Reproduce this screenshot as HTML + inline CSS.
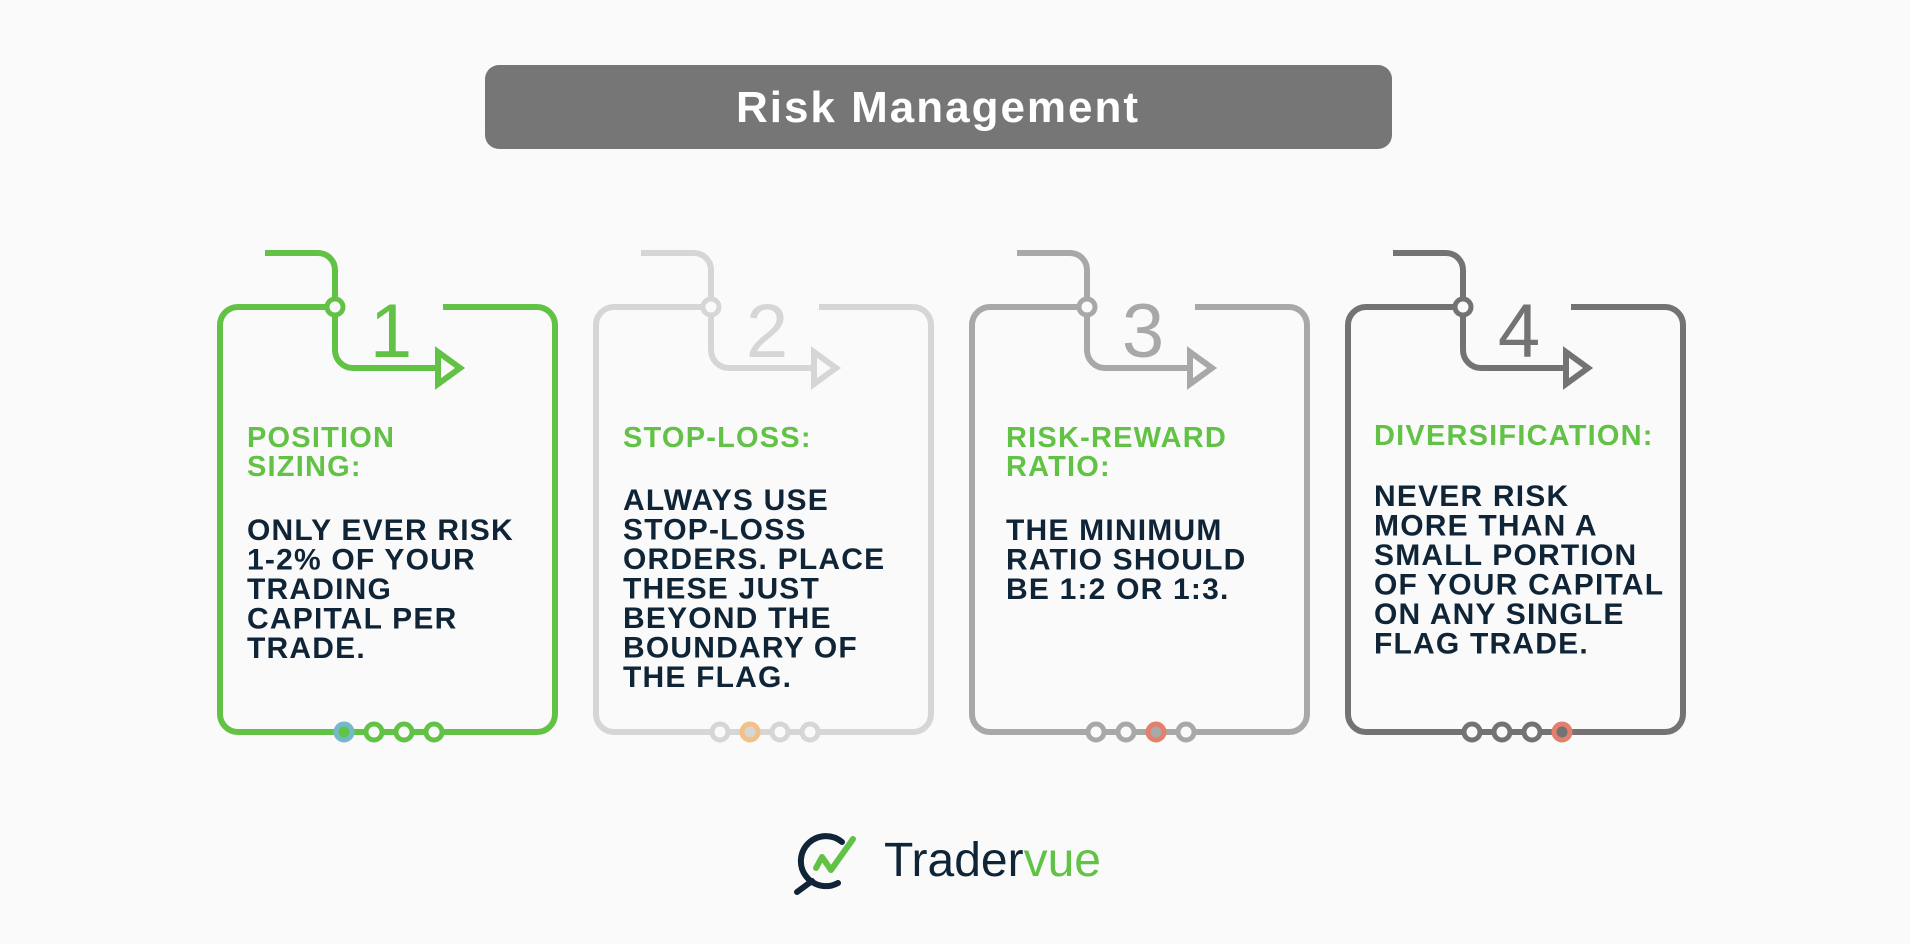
<!DOCTYPE html>
<html><head><meta charset="utf-8"><style>
html,body{margin:0;padding:0;background:#fafafa;}
svg{display:block}
text{font-family:"Liberation Sans",sans-serif;}
.h{font-weight:bold;font-size:29px;fill:#62c246;letter-spacing:1.2px}
.b{font-weight:bold;font-size:30px;fill:#0f2436;letter-spacing:1.2px}
.n{font-size:76px;}
</style></head><body>
<svg width="1910" height="944" viewBox="0 0 1910 944" xmlns="http://www.w3.org/2000/svg">
<rect width="1910" height="944" fill="#fafafa"/>
<rect x="485" y="65" width="907" height="84" rx="14" fill="#767676"/>
<text x="938" y="122" text-anchor="middle" font-size="44" font-weight="bold" fill="#fff" letter-spacing="2">Risk Management</text>

<defs>
<g id="card" fill="none" stroke-width="6" stroke-linecap="butt">
  <path d="M335 307 H238 a18 18 0 0 0 -18 18 V714 a18 18 0 0 0 18 18 H537 a18 18 0 0 0 18 -18 V325 a18 18 0 0 0 -18 -18 H443"/>
  <path d="M265 253 H318 a17 17 0 0 1 17 17 V350 a18 18 0 0 0 18 18 H440"/>
  <path d="M438 352 L460 368 L438 384 Z"/>
</g>
</defs>

<!-- card 1 -->
<g stroke="#62c246"><use href="#card"/></g>
<circle cx="335" cy="307" r="8" fill="#fafafa" stroke="#62c246" stroke-width="5"/>
<text x="391" y="357" text-anchor="middle" class="n" fill="#62c246">1</text>
<g stroke-width="5" fill="#fafafa" stroke="#62c246">
<circle cx="344" cy="732" r="8" stroke="#74b9c9" fill="#62c246"/><circle cx="374" cy="732" r="8"/><circle cx="404" cy="732" r="8"/><circle cx="434" cy="732" r="8"/></g>
<text class="h"><tspan x="247" y="447">POSITION</tspan><tspan x="247" y="476">SIZING:</tspan></text>
<text class="b"><tspan x="247" y="540">ONLY EVER RISK</tspan><tspan x="247" y="569.5">1-2% OF YOUR</tspan><tspan x="247" y="599">TRADING</tspan><tspan x="247" y="628.5">CAPITAL PER</tspan><tspan x="247" y="658">TRADE.</tspan></text>

<!-- card 2 -->
<g stroke="#d6d6d6" transform="translate(376,0)"><use href="#card"/></g>
<circle cx="711" cy="307" r="8" fill="#fafafa" stroke="#d6d6d6" stroke-width="5"/>
<text x="767" y="357" text-anchor="middle" class="n" fill="#d6d6d6">2</text>
<g stroke-width="5" fill="#fafafa" stroke="#d6d6d6">
<circle cx="720" cy="732" r="8"/><circle cx="750" cy="732" r="8" stroke="#f2c187" fill="#d6d6d6"/><circle cx="780" cy="732" r="8"/><circle cx="810" cy="732" r="8"/></g>
<text class="h"><tspan x="623" y="447">STOP-LOSS:</tspan></text>
<text class="b"><tspan x="623" y="510">ALWAYS USE</tspan><tspan x="623" y="539.5">STOP-LOSS</tspan><tspan x="623" y="569">ORDERS. PLACE</tspan><tspan x="623" y="598.5">THESE JUST</tspan><tspan x="623" y="628">BEYOND THE</tspan><tspan x="623" y="657.5">BOUNDARY OF</tspan><tspan x="623" y="687">THE FLAG.</tspan></text>

<!-- card 3 -->
<g stroke="#a8a8a8" transform="translate(752,0)"><use href="#card"/></g>
<circle cx="1087" cy="307" r="8" fill="#fafafa" stroke="#a8a8a8" stroke-width="5"/>
<text x="1143" y="357" text-anchor="middle" class="n" fill="#a8a8a8">3</text>
<g stroke-width="5" fill="#fafafa" stroke="#a8a8a8">
<circle cx="1096" cy="732" r="8"/><circle cx="1126" cy="732" r="8"/><circle cx="1156" cy="732" r="8" stroke="#e3806d" fill="#a8a8a8"/><circle cx="1186" cy="732" r="8"/></g>
<text class="h"><tspan x="1006" y="447">RISK-REWARD</tspan><tspan x="1006" y="476">RATIO:</tspan></text>
<text class="b"><tspan x="1006" y="540">THE MINIMUM</tspan><tspan x="1006" y="569.5">RATIO SHOULD</tspan><tspan x="1006" y="599">BE 1:2 OR 1:3.</tspan></text>

<!-- card 4 -->
<g stroke="#737373" transform="translate(1128,0)"><use href="#card"/></g>
<circle cx="1463" cy="307" r="8" fill="#fafafa" stroke="#737373" stroke-width="5"/>
<text x="1519" y="357" text-anchor="middle" class="n" fill="#737373">4</text>
<g stroke-width="5" fill="#fafafa" stroke="#737373">
<circle cx="1472" cy="732" r="8"/><circle cx="1502" cy="732" r="8"/><circle cx="1532" cy="732" r="8"/><circle cx="1562" cy="732" r="8" stroke="#e3806d" fill="#737373"/></g>
<text class="h"><tspan x="1374" y="445">DIVERSIFICATION:</tspan></text>
<text class="b"><tspan x="1374" y="506">NEVER RISK</tspan><tspan x="1374" y="535.5">MORE THAN A</tspan><tspan x="1374" y="565">SMALL PORTION</tspan><tspan x="1374" y="594.5">OF YOUR CAPITAL</tspan><tspan x="1374" y="624">ON ANY SINGLE</tspan><tspan x="1374" y="653.5">FLAG TRADE.</tspan></text>

<!-- logo -->
<path d="M842 842 A25 25 0 1 0 838 883" fill="none" stroke="#0f2436" stroke-width="6" stroke-linecap="round"/>
<line x1="812" y1="881" x2="797" y2="892" stroke="#0f2436" stroke-width="6" stroke-linecap="round"/>
<polyline points="816,868 822,857 831,870 853,839" fill="none" stroke="#62c246" stroke-width="6" stroke-linejoin="round" stroke-linecap="round"/>
<text x="884" y="876" font-size="48" fill="#0f2436">Trader<tspan fill="#62c246">vue</tspan></text>
</svg>
</body></html>
